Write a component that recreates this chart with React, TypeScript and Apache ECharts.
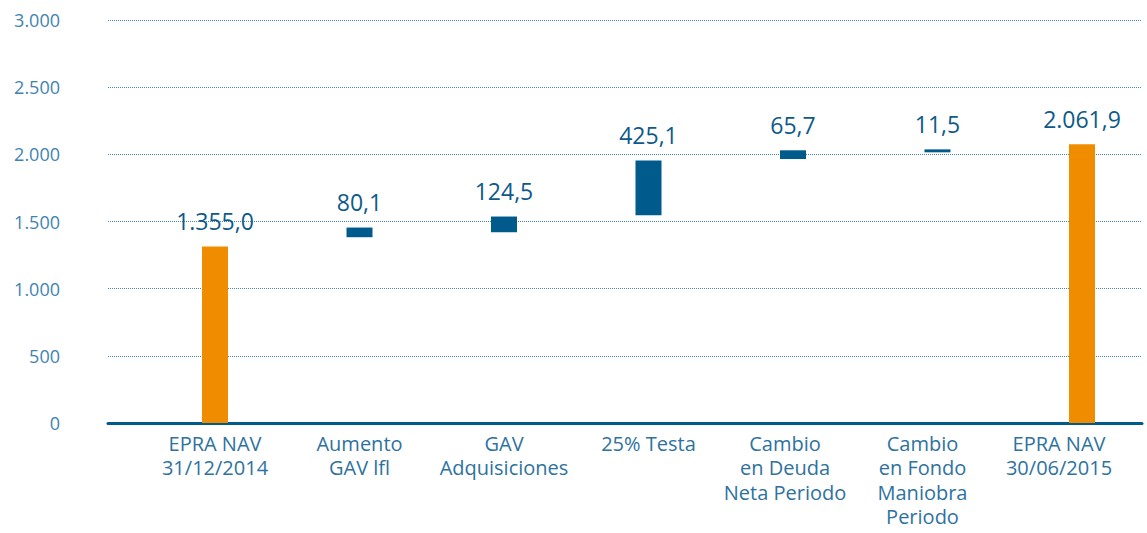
import React, { useEffect, useRef } from "react";
import * as echarts from "echarts";

const categories = [
  "EPRA NAV\n31/12/2014",
  "Aumento\nGAV lfl",
  "GAV\nAdquisiciones",
  "25% Testa",
  "Cambio\nen Deuda\nNeta Periodo",
  "Cambio\nen Fondo\nManiobra\nPeriodo",
  "EPRA NAV\n30/06/2015",
];
// floating bar bottoms and heights as drawn in the picture
const barBase = [0, 1383, 1420, 1547, 1965, 2015, 0];
const barHeight = [1313, 72, 117, 408, 65, 22, 2075];
const isTotal = [true, false, false, false, false, false, true];
const valueLabels = ["1.355,0", "80,1", "124,5", "425,1", "65,7", "11,5", "2.061,9"];
const yTicks = [0, 500, 1000, 1500, 2000, 2500, 3000];

const ORANGE = "#f08c00";
const BLUE = "#005a8c";
const FONT = "'Open Sans', sans-serif";
// style: leftward nudge (px) of each category label, as in the reference layout
const LABEL_NUDGE = [0, 0, 0, 0, 8, 15, 23];

function fmtThousands(v: number): string {
  return String(v).replace(/\B(?=(\d{3})+(?!\d))/g, ".");
}

export default function App() {
  const ref = useRef<HTMLDivElement>(null);
  useEffect(() => {
    if (!ref.current) return;
    const chart = echarts.init(ref.current, null, { renderer: "svg" });
    const yMin = yTicks[0];
    const yMax = yTicks[yTicks.length - 1];
    const interval = yTicks[1] - yTicks[0];
    const rich: Record<string, any> = {};
    LABEL_NUDGE.forEach((n, i) => {
      rich["c" + i] = {
        color: "#2e72a0",
        fontFamily: FONT,
        fontSize: 20,
        lineHeight: 24.5,
        padding: [0, n * 2, 0, 0],
      };
    });
    chart.setOption({
      animation: false,
      backgroundColor: "#ffffff",
      grid: [
        { left: 108, right: 5, top: 20, bottom: 110, outerBoundsMode: "none", containLabel: false },
        { left: 142.75, width: 1011.5, top: 20, bottom: 110, outerBoundsMode: "none", containLabel: false },
      ],
      xAxis: [
        {
          type: "value",
          gridIndex: 0,
          min: 0,
          max: 1,
          axisLabel: { show: false },
          axisTick: { show: false },
          splitLine: { show: false },
          axisLine: { show: true, lineStyle: { color: BLUE, width: 3 } },
        },
        {
          type: "category",
          gridIndex: 1,
          data: categories,
          axisLine: { show: false },
          axisTick: { show: false },
          axisLabel: {
            interval: 0,
            margin: 8,
            color: "#2e72a0",
            fontFamily: FONT,
            fontSize: 20,
            lineHeight: 24.5,
            verticalAlign: "top",
            formatter: (v: string, i: number) =>
              v
                .split("\n")
                .map((line) => "{c" + i + "|" + line + "}")
                .join("\n"),
            rich,
          },
        },
      ],
      yAxis: [
        {
          type: "value",
          gridIndex: 0,
          min: yMin,
          max: yMax,
          interval: interval,
          axisLine: { show: false },
          axisTick: { show: false },
          axisLabel: {
            margin: 48,
            color: "#3f83b2",
            fontFamily: FONT,
            fontSize: 18,
            formatter: (v: number) => fmtThousands(v),
          },
          splitLine: {
            show: true,
            lineStyle: { color: "#4a88b4", type: [1, 1], width: 1 },
          },
        },
        {
          type: "value",
          gridIndex: 1,
          min: yMin,
          max: yMax,
          interval: interval,
          show: false,
          splitLine: { show: false },
        },
      ],
      series: [
        {
          type: "bar",
          name: "base",
          xAxisIndex: 1,
          yAxisIndex: 1,
          stack: "w",
          barWidth: 26,
          itemStyle: { color: "rgba(0,0,0,0)" },
          data: barBase,
          silent: true,
        },
        {
          type: "bar",
          name: "value",
          xAxisIndex: 1,
          yAxisIndex: 1,
          stack: "w",
          barWidth: 26,
          data: barHeight.map((h, i) => ({
            value: h,
            itemStyle: { color: isTotal[i] ? ORANGE : BLUE },
          })),
          label: {
            show: true,
            position: "top",
            distance: 14,
            color: "#0d5a8a",
            fontFamily: FONT,
            fontSize: 23,
            formatter: (p: any) => valueLabels[p.dataIndex],
          },
        },
      ],
    });
    return () => chart.dispose();
  }, []);
  return (
    <div
      ref={ref}
      style={{ position: "fixed", left: 0, top: 0, width: 1147, height: 533, background: "#fff" }}
    />
  );
}
